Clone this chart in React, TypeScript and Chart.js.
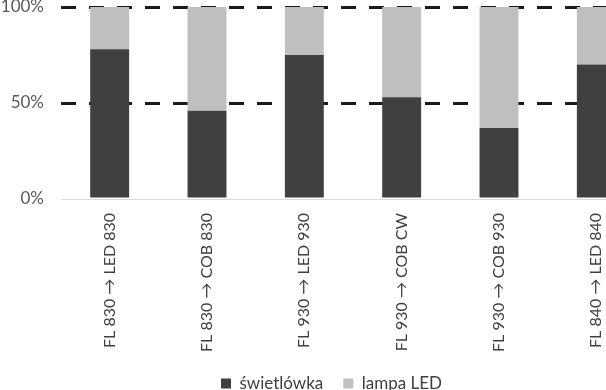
import React, { useEffect, useRef } from "react";
import { Chart, registerables } from "chart.js";

Chart.register(...registerables);

const categories = [
  "FL 830 → LED 830",
  "FL 830 → COB 830",
  "FL 930 → LED 930",
  "FL 930 → COB CW",
  "FL 930 → COB 930",
  "FL 840 → LED 840",
];
const swietlowka = [78, 46, 75, 53, 37, 70];
const lampaLed = [22, 54, 25, 47, 63, 30];
const yTicks = [0, 50, 100];

const FONT = "Lato, 'Open Sans', sans-serif";

const shiftLegend = {
  id: "shiftLegend",
  afterLayout(chart: any) {
    const l = chart.legend;
    if (l) {
      l.left += 9;
      l.right += 9;
      if (l.legendHitBoxes) l.legendHitBoxes.forEach((h: any) => (h.left += 9));
    }
  },
};

export default function App() {
  const ref = useRef<HTMLCanvasElement | null>(null);
  useEffect(() => {
    if (!ref.current) return;
    const chart = new Chart(ref.current, {
      type: "bar",
      data: {
        labels: categories,
        datasets: [
          {
            label: "świetlówka",
            data: swietlowka,
            backgroundColor: "#404040",
            categoryPercentage: 1,
            barPercentage: 0.4,
          },
          {
            label: "lampa LED",
            data: lampaLed,
            backgroundColor: "#bfbfbf",
            categoryPercentage: 1,
            barPercentage: 0.4,
          },
        ],
      },
      plugins: [shiftLegend],
      options: {
        responsive: false,
        animation: false,
        layout: { padding: { top: 0, right: 0, left: 0, bottom: -12 } },
        plugins: {
          tooltip: { enabled: false },
          legend: {
            position: "bottom",
            labels: {
              boxWidth: 10,
              boxHeight: 10,
              color: "#404040",
              font: { family: FONT, size: 17 },
              padding: 20,
            },
          },
        },
        scales: {
          x: {
            stacked: true,
            grid: { display: false },
            border: { display: true, color: "#d9d9d9", width: 1 },
            afterFit: (axis: any) => {
              axis.height = 156;
              axis.paddingLeft = 0;
              axis.paddingRight = 0;
            },
            ticks: {
              maxRotation: 90,
              minRotation: 90,
              color: "#404040",
              font: { family: FONT, size: 16 },
              padding: 6,
            },
          },
          y: {
            stacked: true,
            min: 0,
            max: 100,
            afterBuildTicks: (axis: any) => {
              axis.ticks = yTicks.map((v) => ({ value: v }));
            },
            afterFit: (axis: any) => {
              axis.width = 61;
              axis.paddingTop = 7;
              axis.paddingBottom = 0;
            },
            grid: {
              color: (ctx: any) => (ctx.tick && ctx.tick.value === 0 ? "rgba(0,0,0,0)" : "#1a1a1a"),
              lineWidth: 3,
              drawTicks: false,
            },
            border: { display: false, dash: [15, 13] },
            ticks: {
              color: "#595959",
              font: { family: FONT, size: 17 },
              padding: 17,
              callback: (v: any) => v + "%",
            },
          },
        },
      },
    });
    return () => chart.destroy();
  }, []);
  return (
    <div style={{ position: "absolute", left: 0, top: 0, width: 606, height: 390, overflow: "hidden" }}>
      <canvas ref={ref} width={645} height={390} style={{ width: 645, height: 390, display: "block" }} />
    </div>
  );
}
